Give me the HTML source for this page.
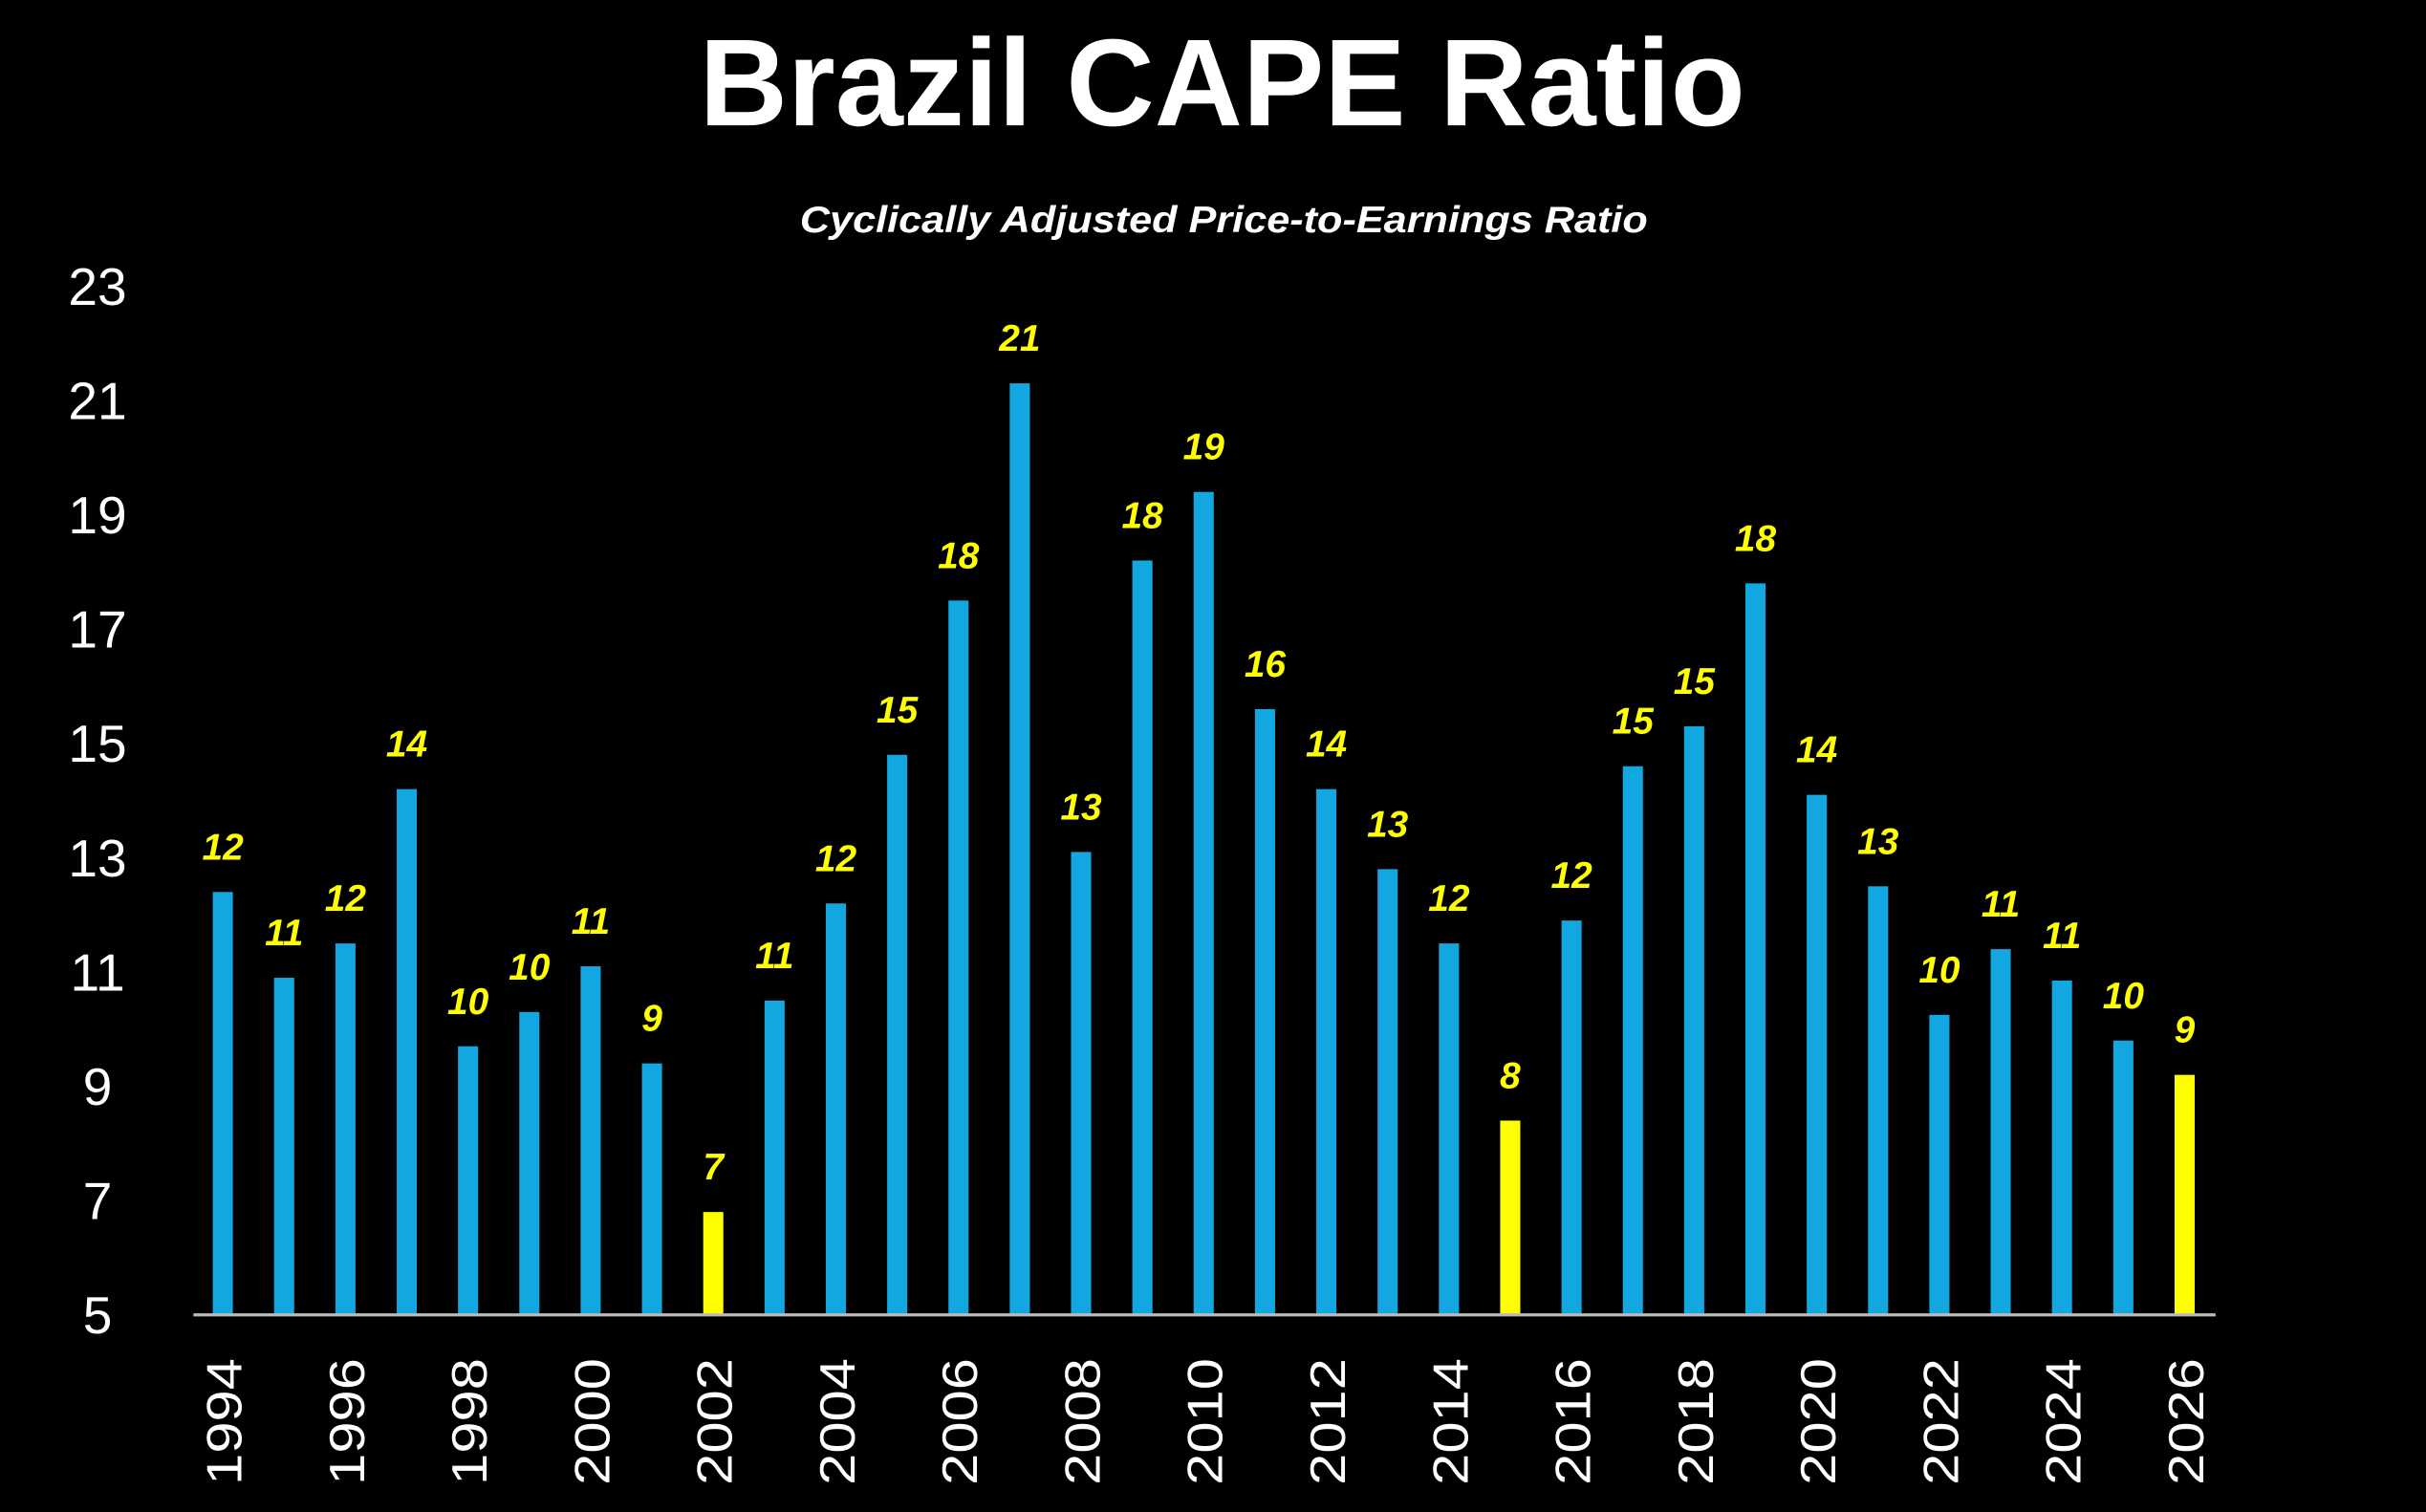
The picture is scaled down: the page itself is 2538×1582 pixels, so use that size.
<!DOCTYPE html>
<html><head><meta charset="utf-8"><style>
html,body{margin:0;padding:0;background:#000;}
svg{display:block;}
</style></head><body>
<svg width="2538" height="1582" viewBox="0 0 1568 977.4" xmlns="http://www.w3.org/2000/svg" font-family="'Liberation Sans', sans-serif">
<rect width="1568" height="977.4" fill="#000"/>
<text x="790" y="81" text-anchor="middle" fill="#fff" font-weight="bold" font-size="80" textLength="676" lengthAdjust="spacingAndGlyphs">Brazil CAPE Ratio</text>
<text x="791" y="150" text-anchor="middle" fill="#fff" font-weight="bold" font-style="italic" font-size="24" textLength="548" lengthAdjust="spacingAndGlyphs">Cyclically Adjusted Price-to-Earnings Ratio</text>
<g id="yaxis"></g>
<g id="bars"></g>
<g id="xaxis"></g>
<line x1="125" y1="850" x2="1432" y2="850" stroke="#bbb" stroke-width="2"/>
</svg>
<script>
const years = [1994,1995,1996,1997,1998,1999,2000,2001,2002,2003,2004,2005,2006,2007,2008,2009,2010,2011,2012,2013,2014,2015,2016,2017,2018,2019,2020,2021,2022,2023,2024,2025,2026];
const values = [12.4,10.9,11.5,14.2,9.7,10.3,11.1,9.4,6.8,10.5,12.2,14.8,17.5,21.3,13.1,18.2,19.4,15.6,14.2,12.8,11.5,8.4,11.9,14.6,15.3,17.8,14.1,12.5,10.25,11.4,10.85,9.8,9.2];
const valueLabels = ["12","11","12","14","10","10","11","9","7","11","12","15","18","21","13","18","19","16","14","13","12","8","12","15","15","18","14","13","10","11","11","10","9"];
const highlightYears = [2002,2015,2026];
const yTicks = [5,7,9,11,13,15,17,19,21,23];
const yMin = 5, yMax = 23;
const NS = "http://www.w3.org/2000/svg";
const y = v => 850 - (v - yMin) * (665 / (yMax - yMin));
const x = i => 144 + i * (1412 - 144) / (years.length - 1);
function mk(tag, attrs, parent, text){
  const el = document.createElementNS(NS, tag);
  for (const k in attrs) el.setAttribute(k, attrs[k]);
  if (text !== undefined) el.textContent = text;
  parent.appendChild(el);
  return el;
}
const yg = document.getElementById('yaxis');
yTicks.forEach(t => {
  const el = mk('text', {x: 63, y: y(t) + 12, 'text-anchor': 'middle', fill: '#fff', 'font-size': 34}, yg, String(t));
  
  
});
const bg = document.getElementById('bars');
const xg = document.getElementById('xaxis');
years.forEach((yr, i) => {
  const hl = highlightYears.includes(yr);
  const r = mk('rect', {x: x(i) - 6.5, y: y(values[i]), width: 13, height: 850 - y(values[i]), fill: hl ? '#ffff00' : '#12a7e0'}, bg);
  
  
  const l = mk('text', {x: x(i), y: y(values[i]) - 21, 'text-anchor': 'middle', fill: '#ffff00', 'font-size': 24, 'font-weight': 'bold', 'font-style': 'italic'}, bg, valueLabels[i]);
  
  
  if (i % 2 === 0) {
    const t = mk('text', {x: 0, y: 0, 'text-anchor': 'end', fill: '#fff', 'font-size': 32, textLength: 82, lengthAdjust: 'spacingAndGlyphs', transform: 'translate(' + (x(i) + 12) + ',878) rotate(-90)'}, xg, String(yr));
    
    
  }
});
</script>
</body></html>
